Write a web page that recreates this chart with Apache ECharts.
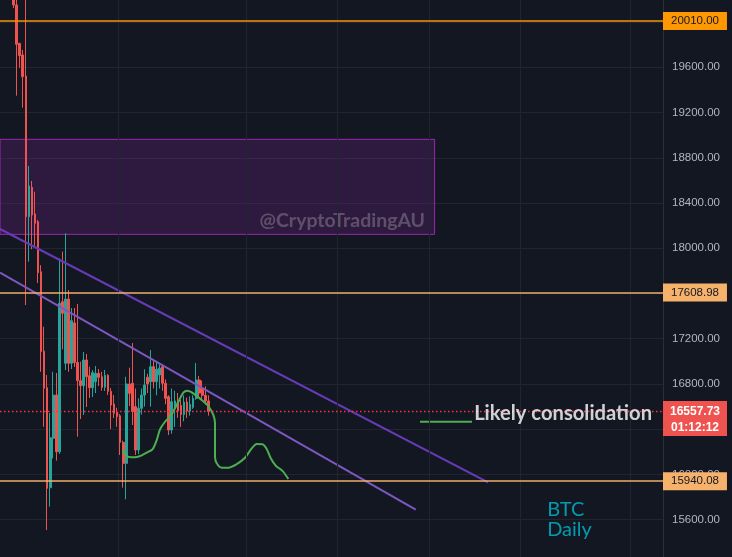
<!DOCTYPE html>
<html><head><meta charset="utf-8">
<script src="https://cdn.jsdelivr.net/npm/echarts@6/dist/echarts.min.js"></script>
<style>html,body{margin:0;padding:0;background:#131722;}#c{width:732px;height:557px;}</style>
</head><body><div id="c"></div><script>
// ---------- data ----------
const barCount = 218;                 // category slots on the time axis
const firstBar = 4;                   // index of the first visible candle
const opens  = [20300,20151,19812,19709,19523,18279,18539,18303,18235,17793,17091,16767,15883,16320,16702,16201,17527,16983,17551,16983,17340,16990,16829,16785,17012,16873,16767,16820,16894,16864,16771,16877,16735,16623,16550,16519,16284,16098,16800,16806,16600,16216,16585,16702,16860,16820,16953,16820,16880,16953,16806,16687,16393,16600,16650,16610,16530,16640,16560,16594,16673,16835,16760,16700,16650];
const closes = [20151,19803,19703,19517,18279,18550,18294,18221,17784,17085,16762,15877,16325,16702,16201,17513,17425,17551,16983,17359,16990,16830,16785,17012,16864,16767,16900,16894,16859,16771,16877,16735,16614,16541,16511,16284,16098,16800,16717,16555,16216,16585,16702,16791,16800,16953,16820,16930,16940,16806,16673,16393,16643,16650,16560,16530,16640,16560,16620,16673,16835,16720,16700,16650,16557.73];
const lows   = [20124,19349,19596,19243,17498,17881,17991,18014,17693,16908,16422,15509,15715,16143,16122,16181,17107,16923,16908,16932,16950,16334,16490,16526,16596,16676,16685,16720,16782,16741,16738,16702,16402,16499,16422,16172,15883,15780,16605,16437,16172,16180,16530,16600,16720,16600,16760,16700,16760,16740,16620,16349,16360,16420,16500,16420,16470,16500,16520,16580,16660,16680,16660,16620,16520];
const highs  = [20380,20250,19815,19753,20300,18727,18595,18500,18250,17850,17306,16879,16543,16908,16897,17911,17970,18132,17631,17472,17472,17507,16997,17083,17065,16953,16923,16959,16932,16908,16923,16886,16764,16702,16590,16534,16298,16864,16944,17162,16760,16673,16760,16930,16890,17100,17010,16990,16975,16975,16840,16700,16760,16740,16720,16660,16700,16680,16690,16700,16985,16870,16830,16780,16700];
const timeGridBars = [38.5, 80.5, 110.5, 140.5, 170.5, 206.8];   // time-axis grid positions (bar index)
const yMin = 15200, yMax = 20400, yStep = 400;
const levelValues = [20010.00, 17608.98, 15940.08];
const lastPrice = 16557.73;
const countdown = '01:12:12';
// zone (bar index / price)
const zoneX = [-3, 142.4];
const zoneY = [18963, 18123];
const watermark = '@CryptoTradingAU';
// trend lines (bar index / price)
const upperX = [-0.5, 160.0], upperY = [18170, 15930];
const lowerX = [-0.5, 136.2], lowerY = [17784, 15690];
// hand-drawn projection path (bar index / price)
const pathX = [39.85,41.16,42.58,44.45,46.10,47.74,49.71,51.03,52.11,53.76,55.96,58.13,59.78,61.09,63.06,65.83,67.99,69.64,70.20,70.20,70.20,70.76,72.40,74.57,77.34,80.06,82.27,83.91,85.75,87.20,88.52,90.26,92.46,94.31];
const pathY = [16216,16163,16152,16154,16169,16192,16225,16304,16399,16466,16532,16643,16723,16740,16717,16658,16605,16526,16452,16305,16157,16099,16060,16060,16092,16148,16231,16269,16267,16225,16143,16075,16030,15960];
const noteLineX = [137.6, 154.7], noteLineY = 16466;
const noteText = 'Likely consolidation', noteX = 155.4, noteY = 16536;
const tagText = 'BTC\nDaily', tagX = 179.4, tagY = 15601;

// ---------- build ----------
const categories = Array.from({length: barCount}, (_, i) => String(i));
const candles = categories.map((_, i) => {
  const k = i - firstBar;
  return (k >= 0 && k < opens.length) ? [opens[k], closes[k], lows[k], highs[k]] : '-';
});
const levelColors = [
  {line: 'rgba(255,152,0,0.72)', bg: '#ff9800'},
  {line: 'rgba(246,178,107,0.72)', bg: '#f6b26b'},
  {line: 'rgba(246,178,107,0.72)', bg: '#f6b26b'}
];
const gridLine = '#222531';
const LABEL_FONT = 'Liberation Sans';

const chart = echarts.init(document.getElementById('c'), null, {renderer: 'canvas', width: 732, height: 557});
const option = {
  backgroundColor: '#131722',
  animation: false,
  grid: {left: 0, right: 69, top: -23.2, bottom: -7.94, containLabel: false, outerBoundsMode: 'none', show: false},
  xAxis: [
    {type: 'category', data: categories, boundaryGap: true, show: false,
     axisLine: {show: false}, axisTick: {show: false}, axisLabel: {show: false}, splitLine: {show: false}},
    {type: 'value', min: -0.5, max: barCount - 0.5, show: false, axisLine: {show: false, onZero: false}, splitLine: {show: false}}
  ],
  yAxis: {
    type: 'value', position: 'right', min: yMin, max: yMax, interval: yStep,
    axisLine: {show: true, onZero: false, lineStyle: {color: '#2a2e39'}},
    axisTick: {show: false},
    axisLabel: {color: '#b2b5be', fontSize: 11.5, fontFamily: LABEL_FONT, margin: 9, formatter: v => v.toFixed(2)},
    splitLine: {show: true, lineStyle: {color: gridLine, width: 1}}
  },
  series: [
    {
      type: 'line', xAxisIndex: 1, yAxisIndex: 0, data: [], z: 1, silent: true,
      markLine: {silent: true, symbol: ['none', 'none'], animation: false, label: {show: false},
        lineStyle: {color: gridLine, width: 1, type: 'solid'},
        data: timeGridBars.map(b => ({xAxis: b}))}
    },
    {
      type: 'candlestick', xAxisIndex: 0, yAxisIndex: 0, data: candles, barWidth: 2.2, z: 2,
      itemStyle: {color: '#26a69a', color0: '#ef5350', borderColor: '#26a69a', borderColor0: '#ef5350', borderWidth: 1}
    },
    {
      type: 'line', xAxisIndex: 1, yAxisIndex: 0, data: [], z: 3, silent: true,
      markArea: {
        silent: true,
        itemStyle: {color: 'rgba(156,39,176,0.2)', borderColor: '#9c27b0', borderWidth: 1},
        label: {show: true, position: 'insideBottomRight', distance: 4, padding: [0, 6, 0, 0],
                color: 'rgba(255,255,255,0.23)', fontSize: 19.5, fontWeight: 'bold', fontFamily: 'Lato'},
        data: [[{xAxis: zoneX[0], yAxis: zoneY[0], name: watermark}, {xAxis: zoneX[1], yAxis: zoneY[1]}]]
      }
    },
    {type: 'line', xAxisIndex: 1, yAxisIndex: 0, z: 4, symbol: 'none', silent: true,
     data: upperX.map((x, i) => [x, upperY[i]]), lineStyle: {color: '#673ab7', width: 2.2}},
    {type: 'line', xAxisIndex: 1, yAxisIndex: 0, z: 4, symbol: 'none', silent: true,
     data: lowerX.map((x, i) => [x, lowerY[i]]), lineStyle: {color: '#7e57c2', width: 2}},
    {type: 'line', xAxisIndex: 1, yAxisIndex: 0, z: 4, symbol: 'none', silent: true, smooth: 0.25,
     data: pathX.map((x, i) => [x, pathY[i]]), lineStyle: {color: '#4caf50', width: 2}},
    {type: 'line', xAxisIndex: 1, yAxisIndex: 0, z: 4, symbol: 'none', silent: true,
     data: noteLineX.map(x => [x, noteLineY]), lineStyle: {color: '#4caf50', width: 2}},
    {
      type: 'line', xAxisIndex: 1, yAxisIndex: 0, data: [], z: 5, clip: false, silent: true,
      markLine: {
        silent: true, symbol: ['none', 'none'], animation: false,
        label: {position: 'end', distance: 0, padding: [3, 8, 3, 8], fontSize: 11.5, fontFamily: LABEL_FONT,
                formatter: p => Number(p.value).toFixed(2)},
        data: levelValues.map((v, i) => ({
          yAxis: v,
          lineStyle: {color: levelColors[i].line, width: 2, type: 'solid'},
          label: {backgroundColor: levelColors[i].bg, color: '#131722'}
        })).concat([{yAxis: lastPrice, lineStyle: {color: '#f23645', width: 1.4, type: [1.5, 2.5]}, label: {show: false}}])
      }
    },
    {
      type: 'scatter', xAxisIndex: 1, yAxisIndex: 0, z: 6, symbolSize: 0, silent: true,
      data: [
        {value: [noteX, noteY], label: {show: true, position: 'right', distance: 0, formatter: noteText,
          color: '#ffffff', fontSize: 20.2, fontWeight: 'bold', fontFamily: 'Lato'}},
        {value: [tagX, tagY], label: {show: true, position: 'right', distance: 0, formatter: tagText,
          color: '#00bcd4', fontSize: 20, lineHeight: 20, fontFamily: 'Lato'}}
      ]
    }
  ]
};
chart.setOption(option);

// current price tag, positioned through the y scale
const py = chart.convertToPixel({yAxisIndex: 0}, lastPrice);
const axisX = 732 - 69;
chart.setOption({
  graphic: [{
    type: 'group', zlevel: 1, z: 100, silent: true,
    children: [
      {type: 'rect', zlevel: 1, z: 100, shape: {x: axisX, y: py - 10.5, width: 64, height: 35}, style: {fill: '#ef5350'}},
      {type: 'text', zlevel: 1, z: 101, x: axisX + 32, y: py + 0.5, style: {text: lastPrice.toFixed(2), fill: '#ffffff', font: 'bold 12px "Liberation Sans"', align: 'center', verticalAlign: 'middle'}},
      {type: 'text', zlevel: 1, z: 101, x: axisX + 32, y: py + 16, style: {text: countdown, fill: '#ffffff', font: 'bold 12px "Liberation Sans"', align: 'center', verticalAlign: 'middle'}}
    ]
  }]
});
</script></body></html>
